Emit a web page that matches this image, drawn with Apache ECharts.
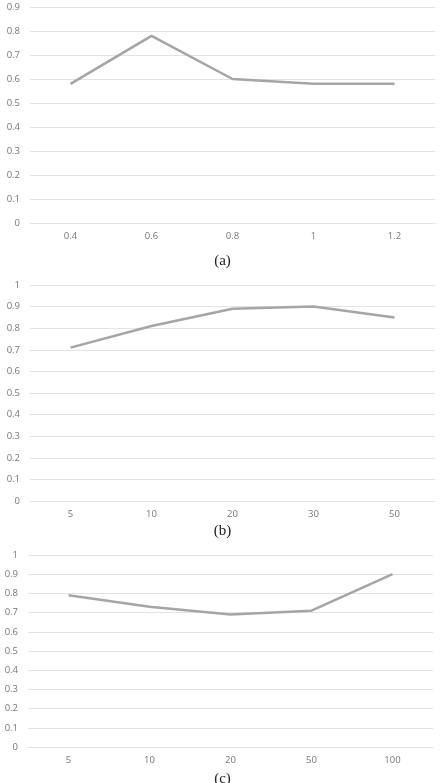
<!DOCTYPE html>
<html>
<head>
<meta charset="utf-8">
<script src="https://cdn.jsdelivr.net/npm/echarts@6/dist/echarts.min.js"></script>
<style>
  html, body { margin: 0; padding: 0; background: #fff; }
  #main { width: 445px; height: 783px; }
</style>
</head>
<body>
<div id="main"></div>
<script>
// 三个子图的数据
var catsA = ["0.4", "0.6", "0.8", "1", "1.2"];
var valsA = [0.58, 0.78, 0.60, 0.58, 0.58];
var catsB = ["5", "10", "20", "30", "50"];
var valsB = [0.71, 0.81, 0.89, 0.90, 0.85];
var catsC = ["5", "10", "20", "50", "100"];
var valsC = [0.79, 0.73, 0.69, 0.71, 0.90];
var captions = ["(a)", "(b)", "(c)"];

var lineColor = "#a5a5a5";
var gridColor = "#e3e3e3";
var labelColor = "#777";

var myChart = echarts.init(document.getElementById("main"));

function xAxisOf(i, cats) {
  return {
    type: "category",
    gridIndex: i,
    data: cats,
    boundaryGap: true,
    axisLine: { show: true, lineStyle: { color: gridColor, width: 1 } },
    axisTick: { show: false },
    axisLabel: { color: labelColor, fontSize: 9.5, fontFamily: "Open Sans", margin: 8 }
  };
}
function yAxisOf(i, max) {
  return {
    type: "value",
    gridIndex: i,
    min: 0,
    max: max,
    interval: 0.1,
    axisLine: { show: false },
    axisTick: { show: false },
    splitLine: { lineStyle: { color: gridColor, width: 1 } },
    axisLabel: {
      color: labelColor, fontSize: 9.5, fontFamily: "Open Sans", margin: 10,
      formatter: function (v) { return String(Math.round(v * 10) / 10); }
    }
  };
}
function seriesOf(i, vals) {
  return {
    type: "line",
    xAxisIndex: i,
    yAxisIndex: i,
    data: vals,
    symbol: "none",
    lineStyle: { color: lineColor, width: 2.5 }
  };
}

var option = {
  animation: false,
  title: [
    { text: captions[0], left: "center", top: 254 },
    { text: captions[1], left: "center", top: 524 },
    { text: captions[2], left: "center", top: 772 }
  ].map(function (t) {
    t.textStyle = { fontFamily: "Liberation Serif", fontSize: 15, fontWeight: "normal", color: "#222" };
    t.padding = 0;
    return t;
  }),
  grid: [
    { left: 30, right: 10, top: 7, height: 216 },
    { left: 30, right: 10, top: 285, height: 216 },
    { left: 28, right: 12, top: 555, height: 192 }
  ],
  xAxis: [xAxisOf(0, catsA), xAxisOf(1, catsB), xAxisOf(2, catsC)],
  yAxis: [yAxisOf(0, 0.9), yAxisOf(1, 1), yAxisOf(2, 1)],
  series: [seriesOf(0, valsA), seriesOf(1, valsB), seriesOf(2, valsC)]
};
myChart.setOption(option);
</script>
</body>
</html>
